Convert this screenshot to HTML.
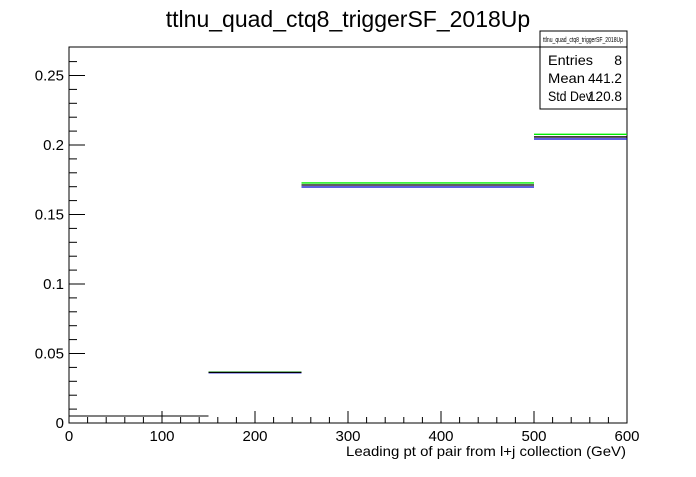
<!DOCTYPE html>
<html><head><meta charset="utf-8"><style>
body{margin:0;background:#fff;font-family:"Liberation Sans",sans-serif}
svg text{font-family:"Liberation Sans",sans-serif}
</style></head><body>
<svg width="696" height="472" viewBox="0 0 696 472">
<rect width="696" height="472" fill="#fff"/>
<text x="348" y="27" font-size="23" text-anchor="middle">ttlnu_quad_ctq8_triggerSF_2018Up</text>
<g id="axes"></g>
<g id="series"></g>
<g>
<rect x="540" y="31" width="87" height="78" fill="#fff" stroke="#000"/>
<line x1="540" y1="47" x2="627" y2="47" stroke="#000"/>
<text x="583" y="42" font-size="7" text-anchor="middle" textLength="80" lengthAdjust="spacingAndGlyphs">ttlnu_quad_ctq8_triggerSF_2018Up</text>
<text x="548" y="65" font-size="14" textLength="45" lengthAdjust="spacingAndGlyphs">Entries</text><text x="622" y="65" font-size="14" text-anchor="end">8</text>
<text x="548" y="83" font-size="14" textLength="37" lengthAdjust="spacingAndGlyphs">Mean</text><text x="622" y="83" font-size="14" text-anchor="end" textLength="34" lengthAdjust="spacingAndGlyphs">441.2</text>
<text x="548" y="101" font-size="14" textLength="44" lengthAdjust="spacingAndGlyphs">Std Dev</text><text x="622" y="101" font-size="14" text-anchor="end" textLength="34" lengthAdjust="spacingAndGlyphs">120.8</text>
</g>
<text x="626" y="456" font-size="14" text-anchor="end" textLength="280" lengthAdjust="spacingAndGlyphs">Leading pt of pair from l+j collection (GeV)</text>
</svg>
<script>
const binEdges=[0,150,250,500,600];
const nominal=[0.005,0.0364,0.1712,0.2058];
const up=[0.005,0.0366,0.1727,0.2077];
const down=[0.005,0.0362,0.1698,0.2043];
const xTicks=[0,100,200,300,400,500,600];
const yTicks=[0,0.05,0.1,0.15,0.2,0.25];
const yTickLabels=["0","0.05","0.1","0.15","0.2","0.25"];
const NS="http://www.w3.org/2000/svg";
const X0=69,X1=627,Y0=423,YT=47,xmax=600,ymax=(423-47)/1390;
const sx=v=>X0+v/xmax*(X1-X0);
const sy=v=>Y0-v/ymax*(Y0-YT);
function mk(tag,attrs,parent,txt){const e=document.createElementNS(NS,tag);for(const k in attrs)e.setAttribute(k,attrs[k]);if(txt!=null)e.textContent=txt;parent.appendChild(e);return e;}
const ax=document.getElementById('axes');
const frame=mk('rect',{x:X0,y:YT,width:X1-X0,height:Y0-YT,fill:'none',stroke:'#000'},ax);


for(let v=0;v<=xmax;v+=20){const major=v%100===0;mk('line',{x1:sx(v),x2:sx(v),y1:Y0,y2:Y0-(major?12:6),stroke:'#000'},ax);}
xTicks.forEach(v=>{const t=mk('text',{x:sx(v),y:Y0+18,'font-size':15,'text-anchor':'middle'},ax,String(v));

});
for(let v=0;v<=0.27;v+=0.01){const major=Math.round(v*100)%5===0;mk('line',{x1:X0,x2:X0+(major?16:8),y1:sy(v),y2:sy(v),stroke:'#000'},ax);}
yTicks.forEach((v,i)=>{const t=mk('text',{x:X0-5,y:sy(v)+5,'font-size':15,'text-anchor':'end'},ax,yTickLabels[i]);

});
const sg=document.getElementById('series');
[[down,'#0000cc','down'],[up,'#00ee00','up'],[nominal,'#000','nominal']].forEach(([arr,c,n])=>{
arr.forEach((v,i)=>{const l=mk('line',{x1:sx(binEdges[i]),x2:sx(binEdges[i+1]),y1:sy(v),y2:sy(v),stroke:c,'stroke-width':i===0?1:1.3},sg);

});
});
</script>
</body></html>
